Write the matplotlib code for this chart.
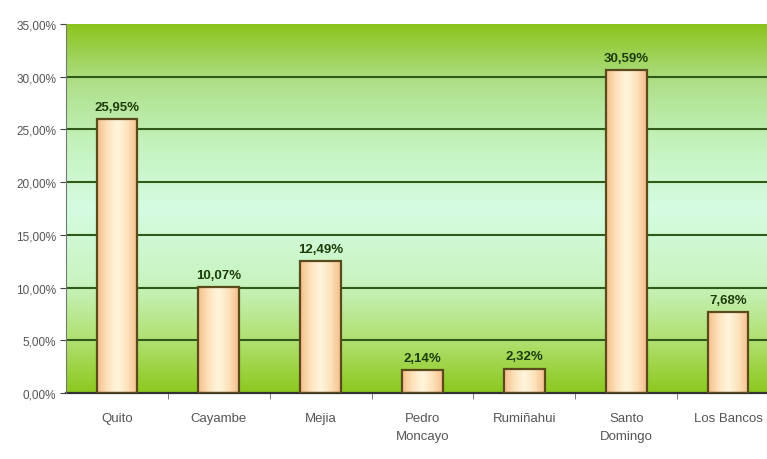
import numpy as np
import matplotlib.pyplot as plt
from matplotlib.colors import LinearSegmentedColormap
from matplotlib.ticker import FuncFormatter, FixedLocator

categories = ["Quito", "Cayambe", "Mejia", "Pedro\nMoncayo", "Rumiñahui", "Santo\nDomingo", "Los Bancos"]
values = [25.95, 10.07, 12.49, 2.14, 2.32, 30.59, 7.68]
value_labels = ["25,95%", "10,07%", "12,49%", "2,14%", "2,32%", "30,59%", "7,68%"]

plt.rcParams['font.family'] = ['Liberation Sans Narrow', 'Liberation Sans', 'DejaVu Sans']

W, H = 767, 460
fig = plt.figure(figsize=(W / 100, H / 100), dpi=100)
# axes run past the right edge of the picture, as in the reference
left, right, top, bottom = 66, 779, 25, 394
ax = fig.add_axes([left / W, 1 - bottom / H, (right - left) / W, (bottom - top) / H])

x = np.arange(len(categories))
ax.set_xlim(-0.5, len(categories) - 0.5)
ax.set_ylim(0, 35)

# background gradient (vertical)
bg = LinearSegmentedColormap.from_list("bg", [
    (0.0, "#8cc81e"), (0.14, "#b0e070"), (0.3, "#c8f4c0"), (0.5, "#d4fce2"),
    (0.68, "#c4f2bc"), (0.84, "#aee08a"), (1.0, "#8cc41e")])
grad = np.linspace(0, 1, 256).reshape(-1, 1)
ax.imshow(grad, cmap=bg, aspect="auto", origin="lower",
          extent=[-0.5, len(categories) - 0.5, 0, 35], zorder=0)

for yv in np.arange(5, 35, 5):
    ax.axhline(yv, color="#2f5a18", lw=1.5, zorder=1)

# bars with horizontal peach/cream gradient
bar_cmap = LinearSegmentedColormap.from_list("bar", ["#f5c08c", "#fde2bc", "#fff6dc", "#fde2bc", "#f5c08c"])
hgrad = np.linspace(0, 1, 64).reshape(1, -1)
bars = ax.bar(x, values, width=0.4, color="none", edgecolor="#5b4a1c", linewidth=1.6, zorder=3)
for b in bars:
    im = ax.imshow(hgrad, cmap=bar_cmap, aspect="auto",
                   extent=[b.get_x(), b.get_x() + b.get_width(), 0, b.get_height()], zorder=2)
    im.set_clip_path(b)

for xi, v, lab in zip(x, values, value_labels):
    ax.text(xi, v + 0.6, lab, ha="center", va="bottom", fontsize=9.5, fontweight="bold",
            color="#1f3d0c", zorder=4)

ax.set_xticks(x)
ax.set_xticklabels(categories, fontsize=9.5, color="#555555", linespacing=1.6)
ax.xaxis.set_minor_locator(FixedLocator(np.arange(0.5, len(categories) - 0.5, 1)))
ax.tick_params(axis="x", which="major", length=0, pad=14)
ax.tick_params(axis="x", which="minor", length=4, color="#666666", direction="out")

ax.set_yticks(np.arange(0, 36, 5))
ax.yaxis.set_major_formatter(FuncFormatter(lambda v, p: f"{v:.2f}".replace(".", ",") + "%"))
ax.tick_params(axis="y", length=4, color="#444444", labelsize=8.5, labelcolor="#555555", pad=3)

for s in ["top", "right"]:
    ax.spines[s].set_visible(False)
ax.spines["left"].set_color("#777777")
ax.spines["bottom"].set_color("#333333")
ax.spines["bottom"].set_linewidth(1.6)
ax.spines["left"].set_zorder(5)

fig.savefig("out.png", dpi=100)
